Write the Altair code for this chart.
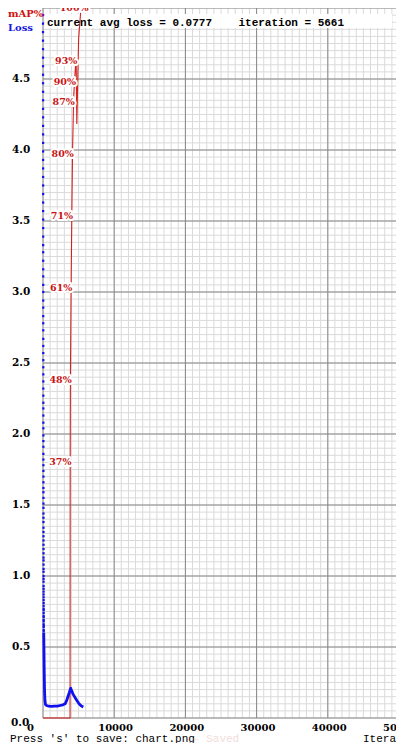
import altair as alt
import pandas as pd

# ---------------- data ----------------
x_major = [0, 10000, 20000, 30000, 40000, 50000]
x_labels = ["0", "10000", "20000", "30000", "40000", "50000"]
x_minor = list(range(0, 50001, 1000))

y_major = [0.0, 0.5, 1.0, 1.5, 2.0, 2.5, 3.0, 3.5, 4.0, 4.5, 5.0]
y_labels = ["0.5", "1.0", "1.5", "2.0", "2.5", "3.0", "3.5", "4.0", "4.5"]
y_label_vals = [0.5, 1.0, 1.5, 2.0, 2.5, 3.0, 3.5, 4.0, 4.5]
y_minor = [round(i * 0.05, 2) for i in range(101)]

# early avg-loss dots (first iterations, drawn as separate points)
early_loss = [4.95, 4.89, 4.83, 4.77, 4.71, 4.65, 4.59, 4.53, 4.47, 4.41,
              4.35, 4.29, 4.23, 4.17, 4.11, 4.05, 3.99, 3.93, 3.87, 3.81,
              3.75, 3.69, 3.63, 3.57, 3.51, 3.45, 3.39, 3.33, 3.28, 3.22,
              3.16, 3.11, 3.05, 3.00, 2.94, 2.89, 2.83, 2.78, 2.73, 2.67,
              2.62, 2.57, 2.52, 2.47, 2.42, 2.37, 2.32, 2.27, 2.22, 2.18,
              2.13, 2.08, 2.04, 1.99, 1.95, 1.91, 1.86, 1.82, 1.78, 1.74,
              1.70, 1.66, 1.62, 1.59, 1.55, 1.51, 1.48, 1.44, 1.41, 1.38,
              1.34, 1.31, 1.28, 1.25, 1.22, 1.19, 1.16, 1.13, 1.11, 1.08,
              1.05, 1.03, 1.00, 0.98, 0.96, 0.93, 0.91, 0.89, 0.87, 0.85,
              0.83, 0.81, 0.79, 0.77, 0.76, 0.74, 0.72, 0.71, 0.69, 0.68,
              0.66, 0.65, 0.64, 0.62, 0.61]
early_iter = list(range(len(early_loss)))

# later avg-loss curve
late_iter = [105, 130, 150, 170, 190, 210, 240, 280, 350, 500, 800, 1200,
             1600, 2000, 2400, 2800, 3100, 3300, 3500, 3700, 3850, 3900,
             3950, 4050, 4200, 4500, 4800, 5000, 5200, 5400, 5661]
late_loss = [0.60, 0.50, 0.42, 0.34, 0.27, 0.21, 0.16, 0.12, 0.095, 0.088,
             0.083, 0.082, 0.083, 0.083, 0.088, 0.093, 0.10, 0.12, 0.15,
             0.18, 0.205, 0.21, 0.20, 0.19, 0.17, 0.145, 0.12, 0.105,
             0.093, 0.084, 0.0777]

# mAP% curve
map_iter = [0, 3800, 3820, 3850, 3950, 4050, 4150, 4300, 4450, 4650, 4750,
            5000, 5300]
map_val = [0, 0, 36.6, 48.2, 61.2, 71.4, 80.2, 87.6, 90.4, 93.4, 84.0,
           96.0, 100.0]

# mAP% labels
lab_iter = [3820, 3850, 3950, 4050, 4150, 4300, 4450, 4650, 5300]
lab_val = [36.6, 48.2, 61.2, 71.4, 80.2, 87.6, 90.4, 93.4, 100.9]
lab_text = ["37%", "48%", "61%", "71%", "80%", "87%", "90%", "93%", "100%"]

cur_loss = "0.0777"
cur_iter = "5661"

# ---------------- chart ----------------
W, H = 353, 710          # visible plot box (the 50000 edge sits 3px past it)
XR = 356                 # pixel length of 0..50000
xs = alt.Scale(domain=[0, 50000], range=[0, XR], nice=False, zero=False)
ys = alt.Scale(domain=[0, 5], nice=False, zero=False)
ms = alt.Scale(domain=[0, 100.42], nice=False, zero=False)

SERIF = "DejaVu Serif"
MONO = "Liberation Mono"
RED = "#c81414"
BLUE = "#1010f0"
NB = "\u00a0"

one = pd.DataFrame({"a": [0]})


def X(field="v"):
    return alt.X(f"{field}:Q", scale=xs, axis=None)


def Y(field="v"):
    return alt.Y(f"{field}:Q", scale=ys, axis=None)


minor_x = alt.Chart(pd.DataFrame({"v": x_minor})).mark_rule(
    color="#dadada", strokeWidth=1).encode(x=X())
minor_y = alt.Chart(pd.DataFrame({"v": y_minor})).mark_rule(
    color="#dadada", strokeWidth=1).encode(y=Y(), x=alt.value(0), x2=alt.value(XR))
major_x = alt.Chart(pd.DataFrame({"v": x_major})).mark_rule(
    color="#888888", strokeWidth=1).encode(x=X())
major_y = alt.Chart(pd.DataFrame({"v": y_major})).mark_rule(
    color="#888888", strokeWidth=1).encode(y=Y(), x=alt.value(0), x2=alt.value(XR))

box = alt.Chart(one).mark_rect(color="white").encode(
    x=alt.value(2), x2=alt.value(349), y=alt.value(6), y2=alt.value(20))

dots = alt.Chart(pd.DataFrame({"it": early_iter, "loss": early_loss})).mark_square(
    color=BLUE, size=5, opacity=1).encode(x=X("it"), y=Y("loss"))

loss_line = alt.Chart(pd.DataFrame({"it": late_iter, "loss": late_loss})).mark_line(
    color=BLUE, strokeWidth=2.8, strokeJoin="round").encode(x=X("it"), y=Y("loss"))

map_line = alt.Chart(pd.DataFrame({"it": map_iter, "m": map_val})).mark_line(
    color="#d42020", strokeWidth=1.1).encode(
    x=X("it"), y=alt.Y("m:Q", scale=ms, axis=None))

lab_df = pd.DataFrame({"it": lab_iter, "m": lab_val, "t": lab_text})
lab_halo = alt.Chart(lab_df).mark_text(
    align="left", baseline="middle", dx=-21, dy=3, font=SERIF,
    fontWeight="bold", fontSize=9.5, color="white", stroke="white",
    strokeWidth=4, strokeJoin="round").encode(
    x=X("it"), y=alt.Y("m:Q", scale=ms, axis=None), text="t:N")
lab_txt = alt.Chart(lab_df).mark_text(
    align="left", baseline="middle", dx=-21, dy=3, font=SERIF,
    fontWeight="bold", fontSize=9.5, color=RED).encode(
    x=X("it"), y=alt.Y("m:Q", scale=ms, axis=None), text="t:N")

ylab = alt.Chart(pd.DataFrame({"v": y_label_vals, "t": y_labels})).mark_text(
    align="left", baseline="middle", font=SERIF, fontWeight="bold",
    fontSize=10.5, color="black").encode(x=alt.value(-31), y=Y(), text="t:N")
ylab0 = alt.Chart(pd.DataFrame({"v": [0.0], "t": ["0.0"]})).mark_text(
    align="left", baseline="middle", dy=5, font=SERIF, fontWeight="bold",
    fontSize=10.5, color="black").encode(x=alt.value(-32), y=Y(), text="t:N")

xlab = alt.Chart(pd.DataFrame({"v": x_major, "t": x_labels})).mark_text(
    align="left", baseline="middle", dx=-16, font=SERIF, fontWeight="bold",
    fontSize=10, color="black").encode(x=X(), y=alt.value(720), text="t:N")


def label(txt, x, y, color="black", font=MONO, size=11, weight="bold", align="left"):
    return alt.Chart(one).mark_text(
        align=align, baseline="middle", font=font, fontSize=size,
        fontWeight=weight, color=color).encode(
        x=alt.value(x), y=alt.value(y), text=alt.value(txt))


t_map = label("mAP%", -35, 5.5, color="#d01010", font=SERIF, size=10)
t_loss = label("Loss", -35, 20, color="#1818e0", font=SERIF, size=10)
t_cur = label(f"current avg loss = {cur_loss}{NB * 4}iteration = {cur_iter}"
              .replace(" ", NB), 4, 14.5)
t_press = label("Press 's' to save: chart.png".replace(" ", NB), -33, 731,
                weight="normal")
t_saved = label("-" + NB + "Saved", 150, 731, color="#f3dcdc", weight="normal")
t_iter = label("Iteration" + NB + "number", 320, 731, weight="normal")

chart = alt.layer(
    minor_x, minor_y, major_x, major_y, box,
    map_line, dots, loss_line, lab_halo, lab_txt,
    ylab, ylab0, xlab, t_map, t_loss, t_cur, t_press, t_saved, t_iter,
).resolve_scale(y="independent").properties(
    width=W, height=H,
    padding={"left": 35, "top": 0, "right": 0, "bottom": 25},
    autosize=alt.AutoSizeParams(type="none"),
    background="white",
).configure_view(stroke=None)

chart.save("out.html", embed_options={"renderer": "svg", "actions": False})
